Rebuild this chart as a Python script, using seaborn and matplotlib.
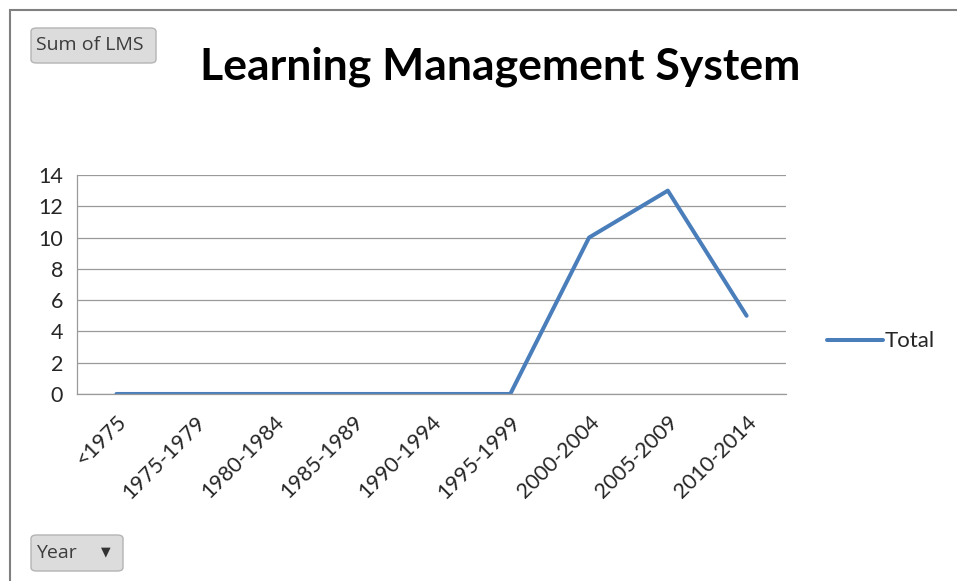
import matplotlib
matplotlib.use("Agg")
import matplotlib.pyplot as plt
import seaborn as sns
import pandas as pd
import numpy as np
from matplotlib.patches import FancyBboxPatch, Rectangle

# data
years = ['<1975', '1975-1979', '1980-1984', '1985-1989', '1990-1994',
         '1995-1999', '2000-2004', '2005-2009', '2010-2014']
totals = [0, 0, 0, 0, 0, 0, 10, 13, 5]

df = pd.DataFrame({'year': years, 'total': totals})

sns.set_style("white")
plt.rcParams['font.family'] = ['Lato', 'DejaVu Sans']

fig = plt.figure(figsize=(9.57, 5.81), dpi=100)
ax = fig.add_axes([0.0805, 0.3219, 0.7408, 0.3769])

pos = np.arange(len(years))
sns.lineplot(x=pos, y=df['total'], ax=ax, color='#4a7ebb', linewidth=2.9, label='Total')

ax.set_xlim(-0.5, len(years) - 0.5)
ax.set_ylim(0, 14)
ax.set_yticks(range(0, 15, 2))
ax.yaxis.grid(True, color='#9a9a9a', linewidth=0.9)
ax.set_axisbelow(True)

ax.set_xticks(pos)
ax.set_xticklabels(years, rotation=45, ha='right', rotation_mode='anchor', fontsize=15.5)
ax.set_xticks(np.arange(-0.5, len(years)), minor=True)
ax.tick_params(axis='x', which='major', length=0, pad=13)
ax.tick_params(axis='x', which='minor', length=7, color='#9a9a9a', width=0.9)
ax.tick_params(axis='y', length=6, color='#9a9a9a', width=0.9, labelsize=15.5, pad=4)
ax.set_xlabel('')
ax.set_ylabel('')
for s in ['top', 'right']:
    ax.spines[s].set_visible(False)
for s in ['left', 'bottom']:
    ax.spines[s].set_color('#9a9a9a')
    ax.spines[s].set_linewidth(0.9)

ax.legend(loc='center left', bbox_to_anchor=(1.03, 0.24), frameon=False,
          fontsize=16, handlelength=2.5, handletextpad=0.1)

fig.text(0.523, 0.885, 'Learning Management System', ha='center', va='center',
         fontsize=32, fontweight='bold', color='black')

# outer frame
fig.patches.append(Rectangle((10 / 957, -0.1), 1.2, 1 - 10 / 581 + 0.1,
                             transform=fig.transFigure, fill=False,
                             edgecolor='#808080', linewidth=1.5))

# pivot field buttons
def button(x0, y0, w, h, text):
    fig.patches.append(FancyBboxPatch((x0 / 957, 1 - (y0 + h) / 581), w / 957, h / 581,
                                      boxstyle='round,pad=0,rounding_size=0.006',
                                      transform=fig.transFigure,
                                      facecolor='#dcdcdc', edgecolor='#b4b4b4', linewidth=1))
    fig.text((x0 + 5) / 957, 1 - (y0 + h / 2) / 581, text, ha='left', va='center',
             fontsize=14, color='#3c3c3c', family=['Open Sans', 'DejaVu Sans'])

button(31, 28, 125, 35, 'Sum of LMS')
button(31, 535, 92, 36, 'Year')
fig.text(106 / 957, 1 - 552 / 581, '▼', ha='center', va='center', fontsize=9,
         color='#333333', family='DejaVu Sans')

fig.savefig('out.png', dpi=100)
